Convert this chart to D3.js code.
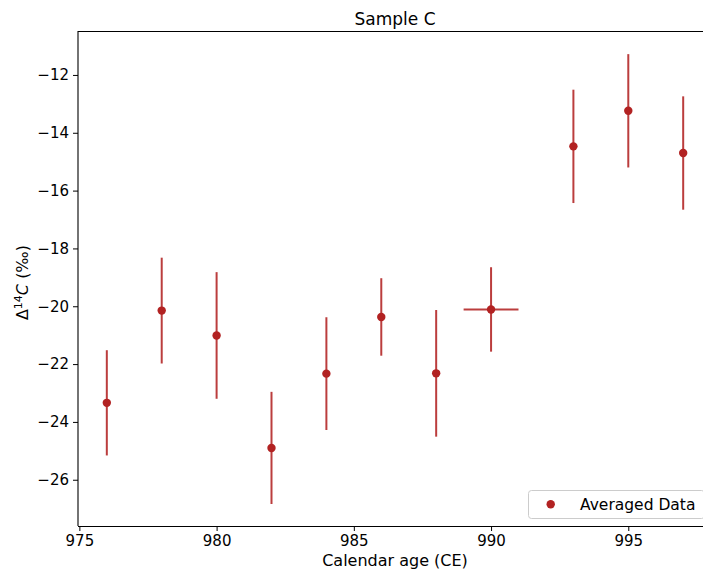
<!DOCTYPE html>
<html><head><meta charset="utf-8">
<script src="https://cdn.jsdelivr.net/npm/d3@7"></script>
<style>
html,body{margin:0;padding:0;background:#fff;overflow:hidden}
text{font-family:"DejaVu Sans",sans-serif;fill:#000}
</style></head>
<body><svg id="c" width="703" height="575"></svg>
<script>
const years = [976, 978, 980, 982, 984, 986, 988, 990, 993, 995, 997];
const values = [-23.34, -20.15, -21.01, -24.90, -22.33, -20.37, -22.32, -20.11, -14.47, -13.24, -14.70];
const yErrors = [1.82, 1.83, 2.19, 1.94, 1.95, 1.34, 2.19, 1.46, 1.96, 1.96, 1.96];
const xErrors = [0, 0, 0, 0, 0, 0, 0, 1, 0, 0, 0];
const xTicks = [975, 980, 985, 990, 995];
const yTicks = [-26, -24, -22, -20, -18, -16, -14, -12];
const seriesName = "Averaged Data";
const title = "Sample C";
const xLabel = "Calendar age (CE)";

const color = "#b22222";
const L = 78, T = 31, R = 712, B = 526;
const svg = d3.select("#c");

const x = d3.scaleLinear().domain([974.95, 998.05]).range([L, R]);
const y = d3.scaleLinear().domain([-27.6, -10.48]).range([B, T]);

// error bars
const g = svg.append("g");
years.forEach((yr, i) => {
  g.append("line").attr("x1", x(yr)).attr("x2", x(yr))
    .attr("y1", y(values[i] - yErrors[i])).attr("y2", y(values[i] + yErrors[i]))
    .attr("stroke", color).attr("stroke-width", 2).attr("stroke-opacity", 0.88);
  if (xErrors[i] > 0) {
    g.append("line").attr("x1", x(yr - xErrors[i])).attr("x2", x(yr + xErrors[i]))
      .attr("y1", y(values[i])).attr("y2", y(values[i]))
      .attr("stroke", color).attr("stroke-width", 2).attr("stroke-opacity", 0.88);
  }
});
g.selectAll("circle.pt").data(years).join("circle").attr("class","pt")
  .attr("cx", d => x(d)).attr("cy", (d, i) => y(values[i])).attr("r", 4.2).attr("fill", color);

// axes
const xAxis = d3.axisBottom(x).tickValues(xTicks).tickSize(5).tickPadding(4).tickFormat(d3.format("d"));
const yAxis = d3.axisLeft(y).tickValues(yTicks).tickSize(5).tickPadding(4).tickFormat(d => "\u2212" + Math.abs(d));
const gx = svg.append("g").attr("transform", `translate(0,${B})`).call(xAxis);
const gy = svg.append("g").attr("transform", `translate(${L},0)`).call(yAxis);
[gx, gy].forEach(a => {
  a.select(".domain").remove();
  a.selectAll("text").style("font-size", "15px").style("font-family", "DejaVu Sans").attr("fill", "#000");
  a.selectAll("line").attr("stroke", "#000").attr("stroke-width", 1);
});
// spines
svg.append("line").attr("x1", L).attr("x2", L).attr("y1", T).attr("y2", B).attr("stroke", "#000").attr("stroke-width", 1.1);
svg.append("line").attr("x1", L).attr("x2", R).attr("y1", T + 0.5).attr("y2", T + 0.5).attr("stroke", "#000");
svg.append("line").attr("x1", L).attr("x2", R).attr("y1", B + 0.5).attr("y2", B + 0.5).attr("stroke", "#000");
svg.append("line").attr("x1", R + 0.5).attr("x2", R + 0.5).attr("y1", T).attr("y2", B).attr("stroke", "#000");

// title & labels
svg.append("text").attr("x", (L + R) / 2).attr("y", 25).attr("text-anchor", "middle")
  .style("font-size", "17px").text(title);
svg.append("text").attr("x", (L + R) / 2).attr("y", 566).attr("text-anchor", "middle")
  .style("font-size", "16px").text(xLabel);
const yl = svg.append("text").attr("transform", `translate(28,${(T + B) / 2 + 4}) rotate(-90)`)
  .attr("text-anchor", "middle").style("font-size", "16px");
yl.append("tspan").text("\u0394");
yl.append("tspan").attr("dy", -6).style("font-size", "11px").text("14");
yl.append("tspan").attr("dy", 6).style("font-style", "italic").text("C");
yl.append("tspan").text(" (\u2030)");

// legend
const lg = svg.append("g");
lg.append("rect").attr("x", 528.5).attr("y", 490.5).attr("width", 176).attr("height", 28).attr("rx", 3)
  .attr("fill", "#fff").attr("fill-opacity", 0.8).attr("stroke", "#ccc");
lg.append("circle").attr("cx", 550.7).attr("cy", 504.3).attr("r", 4.2).attr("fill", color);
lg.append("text").attr("x", 580).attr("y", 509.5).style("font-size", "15.5px").text(seriesName);
</script></body></html>
